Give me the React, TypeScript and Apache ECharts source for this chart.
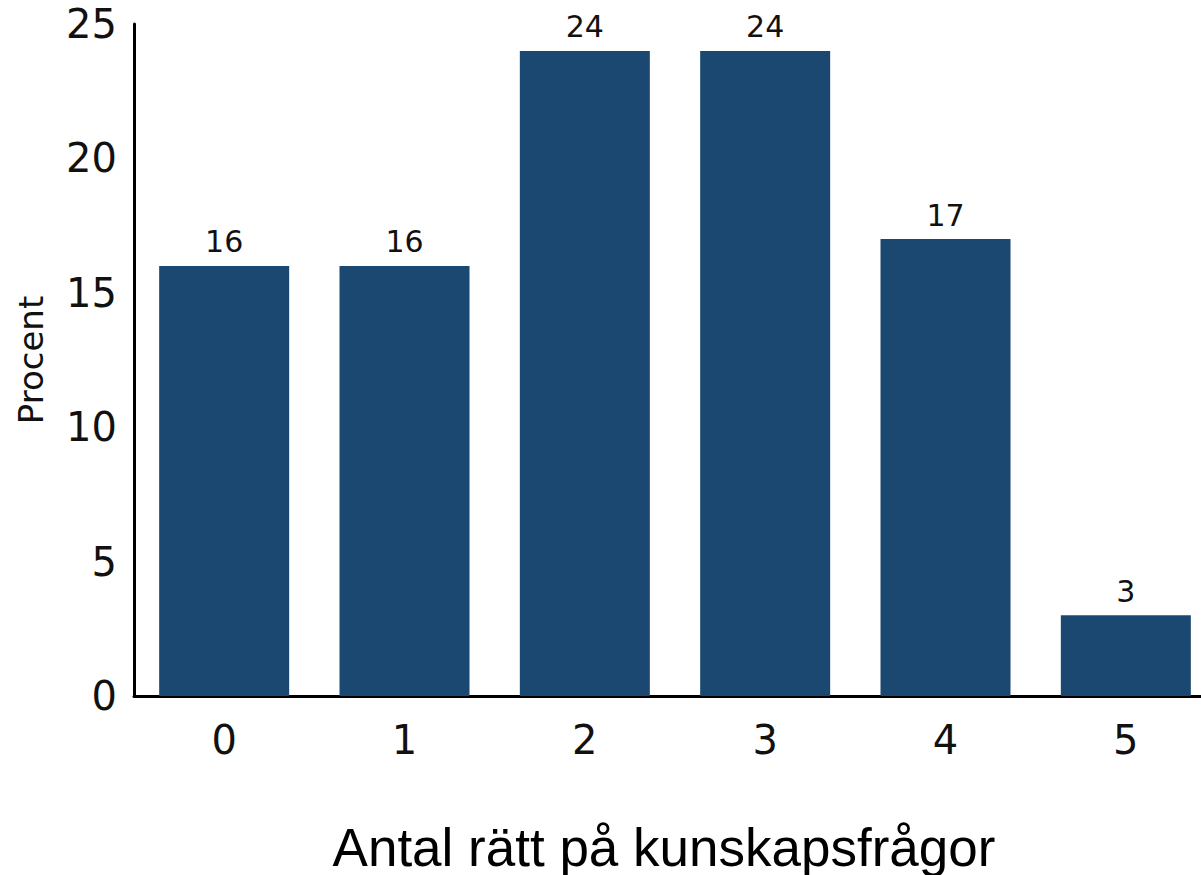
import React, { useEffect, useRef } from "react";
import * as echarts from "echarts";

const categories = ["0", "1", "2", "3", "4", "5"];
const values = [16, 16, 24, 24, 17, 3];
const yTicks = { min: 0, max: 25, interval: 5 };
const xTitle = "Antal rätt på kunskapsfrågor";
const yTitle = "Procent";

export default function App() {
  const ref = useRef<HTMLDivElement>(null);
  useEffect(() => {
    if (!ref.current) return;
    const chart = echarts.init(ref.current, null, { renderer: "svg" });
    const font = "DejaVu Sans";
    chart.setOption({
      animation: false,
      backgroundColor: "#ffffff",
      grid: {
        left: 134,
        right: -15,
        top: 24,
        bottom: 179,
        containLabel: false,
        outerBoundsMode: "none",
      },
      xAxis: {
        type: "category",
        data: categories,
        axisLine: { show: true, lineStyle: { color: "#000", width: 3 } },
        axisTick: { show: false },
        axisLabel: { color: "#111", fontSize: 40, fontFamily: font, margin: 24 },
      },
      yAxis: {
        type: "value",
        min: yTicks.min,
        max: yTicks.max,
        interval: yTicks.interval,
        name: yTitle,
        nameLocation: "middle",
        nameGap: 86,
        nameTextStyle: { color: "#111", fontSize: 34, fontFamily: font },
        axisLine: { show: true, lineStyle: { color: "#000", width: 3 } },
        axisTick: { show: false },
        splitLine: { show: false },
        axisLabel: { color: "#111", fontSize: 40, fontFamily: font, margin: 17 },
      },
      graphic: [
        {
          type: "text",
          x: 664,
          y: 847,
          style: {
            text: xTitle,
            fontFamily: "Liberation Sans",
            fontSize: 53,
            fill: "#000",
            textAlign: "center",
            textVerticalAlign: "middle",
          },
        },
      ],
      series: [
        {
          type: "bar",
          data: values,
          barWidth: 130,
          itemStyle: { color: "#1b4870" },
          label: {
            show: true,
            position: "top",
            distance: 9,
            color: "#111",
            fontSize: 30,
            fontFamily: font,
          },
        },
      ],
    });
    return () => chart.dispose();
  }, []);
  return (
    <div
      ref={ref}
      style={{ position: "fixed", left: 0, top: 0, width: 1201, height: 875, background: "#fff" }}
    />
  );
}
